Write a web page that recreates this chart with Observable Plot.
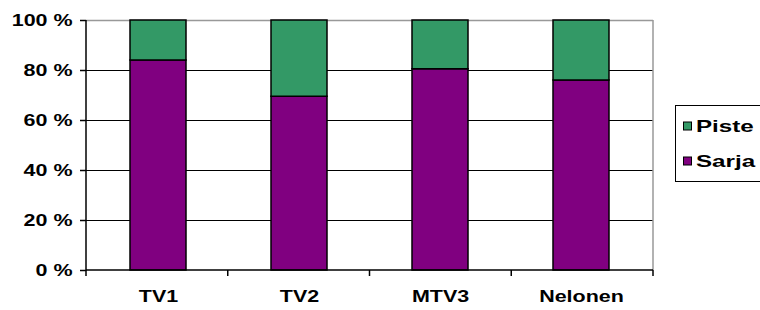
<!DOCTYPE html>
<html>
<head>
<meta charset="utf-8">
<script src="https://cdn.jsdelivr.net/npm/d3@7"></script>
<script src="https://cdn.jsdelivr.net/npm/@observablehq/plot@0.6"></script>
<style>
  html, body { margin: 0; padding: 0; background: #fff; }
  #chart { position: relative; width: 760px; height: 310px; }
  #chart svg text {
    font-family: Arial, "Liberation Sans", sans-serif !important;
    font-weight: 700 !important;
    font-size: 16px !important;
    letter-spacing: 0;
    fill: #000;
  }
  #chart svg .legend-text { font-size: 17px !important; }
</style>
</head>
<body>
<div id="chart"></div>
<script>
const categories = ["TV1", "TV2", "MTV3", "Nelonen"];
const seriesNames = ["Sarja", "Piste"];
const sarjaValues = [84, 69.5, 80.5, 76];
const pisteValues = [16, 30.5, 19.5, 24];
const seriesColors = ["#800080", "#339966"];
const yTicks = [0, 20, 40, 60, 80, 100];
const legendOrder = ["Piste", "Sarja"];

const rows = [];
categories.forEach((c, i) => {
  rows.push({category: c, series: "Sarja", value: sarjaValues[i]});
  rows.push({category: c, series: "Piste", value: pisteValues[i]});
});

const chart = Plot.plot({
  width: 760,
  height: 310,
  marginLeft: 86,
  marginRight: 107,
  marginTop: 20,
  marginBottom: 40,
  style: {background: "#fff", color: "#000", fontWeight: "bold", fontFamily: "Arial, Liberation Sans, sans-serif", fontSize: "16px"},
  x: {domain: categories, paddingInner: 0.6, paddingOuter: 0.3, label: null},
  y: {domain: [0, 100], label: null},
  color: {domain: seriesNames, range: seriesColors},
  marks: [
    Plot.ruleY(yTicks.filter(d => d > 0 && d < 100), {stroke: "#000", strokeWidth: 1}),
    Plot.ruleY([100], {stroke: "#999", strokeWidth: 1.5}),
    Plot.barY(rows, {x: "category", y: "value", fill: "series", stroke: "#000", strokeWidth: 1.5, order: seriesNames}),
    Plot.axisY({ticks: yTicks, tickSize: 6, tickPadding: 8, tickFormat: d => d + " %", stroke: "#000", strokeWidth: 1.5, strokeOpacity: 1, fontWeight: "bold", fontSize: 16}),
    Plot.axisX({tickSize: 0, tickPadding: 20, fontWeight: "bold", fontSize: 16})
  ]
});

document.getElementById("chart").appendChild(chart);

const svg = d3.select(chart);
const xs = chart.scale("x");
const ys = chart.scale("y");
const x0 = xs.range[0], x1 = xs.range[1];
const y0 = ys.apply(0), yTop = ys.apply(100);
const g = svg.append("g");
g.append("line").attr("x1", x1).attr("x2", x1).attr("y1", yTop).attr("y2", y0).attr("stroke", "#999").attr("stroke-width", 1.5);
g.append("line").attr("x1", x0).attr("x2", x0).attr("y1", yTop).attr("y2", y0 + 0.5).attr("stroke", "#000").attr("stroke-width", 1.5);
g.append("line").attr("x1", x0).attr("x2", x1).attr("y1", y0).attr("y2", y0).attr("stroke", "#000").attr("stroke-width", 1.5);
const step = (x1 - x0) / categories.length;
for (let i = 0; i <= categories.length; i++) {
  const xx = x0 + i * step;
  g.append("line").attr("x1", xx).attr("x2", xx).attr("y1", y0).attr("y2", y0 + 6).attr("stroke", "#000").attr("stroke-width", 1.5);
}

// stretch axis text horizontally, like the reference's widened lettering
svg.selectAll("g[aria-label$='axis'] text, g[aria-label*='tick label'] text").each(function () {
  const L = this.getComputedTextLength();
  this.setAttribute("textLength", (L * 1.34).toFixed(1));
  this.setAttribute("lengthAdjust", "spacingAndGlyphs");
});

const lg = svg.append("g").attr("text-anchor", "start");
lg.append("rect").attr("x", 675.5).attr("y", 105.5).attr("width", 100).attr("height", 76).attr("fill", "#fff").attr("stroke", "#000").attr("stroke-width", 1);
legendOrder.forEach((name, i) => {
  const cy = 126 + i * 35;
  lg.append("rect").attr("x", 683.5).attr("y", cy - 4).attr("width", 8).attr("height", 8)
    .attr("fill", chart.scale("color").apply(name)).attr("stroke", "#000").attr("stroke-width", 1);
  const t = lg.append("text").attr("class", "legend-text").attr("x", 696).attr("y", cy).attr("dy", "0.35em")
    .attr("text-anchor", "start").text(name);
  const L = t.node().getComputedTextLength();
  t.attr("textLength", (L * 1.42).toFixed(1)).attr("lengthAdjust", "spacingAndGlyphs");
});
</script>
</body>
</html>
